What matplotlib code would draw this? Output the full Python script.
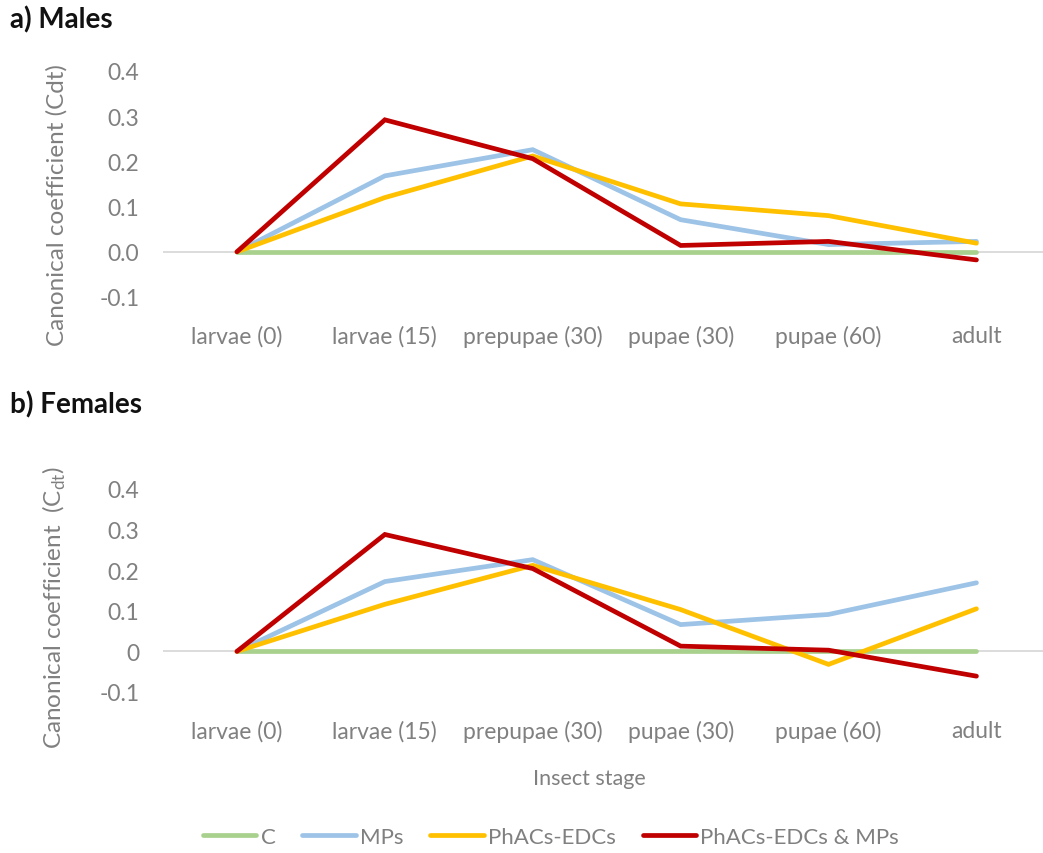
import matplotlib
matplotlib.use("Agg")
import matplotlib.pyplot as plt
from matplotlib.lines import Line2D

plt.rcParams['font.family'] = ['Lato', 'DejaVu Sans']

stages = ["larvae (0)", "larvae (15)", "prepupae (30)", "pupae (30)", "pupae (60)", "adult"]
series_names = ["C", "MPs", "PhACs-EDCs", "PhACs-EDCs & MPs"]
series_colors = ["#A9D18E", "#9DC3E6", "#FFC000", "#C00000"]

males_C = [0, 0, 0, 0, 0, 0]
males_MPs = [0, 0.168, 0.226, 0.071, 0.016, 0.023]
males_PhACs = [0, 0.120, 0.212, 0.106, 0.080, 0.019]
males_PhACs_MPs = [0, 0.292, 0.206, 0.014, 0.023, -0.018]

females_C = [0, 0, 0, 0, 0, 0]
females_MPs = [0, 0.172, 0.226, 0.066, 0.091, 0.169]
females_PhACs = [0, 0.116, 0.212, 0.103, -0.032, 0.105]
females_PhACs_MPs = [0, 0.288, 0.204, 0.013, 0.003, -0.061]

yticks = [-0.1, 0.0, 0.1, 0.2, 0.3, 0.4]
male_ytick_labels = ["-0.1", "0.0", "0.1", "0.2", "0.3", "0.4"]
female_ytick_labels = ["-0.1", "0", "0.1", "0.2", "0.3", "0.4"]

W, H = 1043, 854
fig = plt.figure(figsize=(W / 100, H / 100), dpi=100)

gray_text = "#808080"
x = list(range(len(stages)))


def panel(rect, data, ticklabels, ylabel):
    ax = fig.add_axes(rect)
    ax.axhline(0, color="#D9D9D9", lw=1.3, zorder=1)
    for vals, col in zip(data, series_colors):
        ax.plot(x, vals, color=col, lw=3.4, solid_capstyle="round",
                solid_joinstyle="miter", zorder=3)
    ax.set_xlim(-0.5, 5.45)
    ax.set_ylim(-0.1, 0.4)
    ax.set_xticks(x)
    ax.set_xticklabels(stages, color=gray_text, fontsize=16.5)
    ax.set_yticks(yticks)
    ax.set_yticklabels(ticklabels, color=gray_text, fontsize=16.5)
    ax.tick_params(axis="x", length=0, pad=20)
    ax.tick_params(axis="y", length=0, pad=17)
    for s in ax.spines.values():
        s.set_visible(False)
    ax.set_ylabel(ylabel, color=gray_text, fontsize=17.5)
    return ax


left = 163 / W
width = 880 / W
ax1 = panel([left, 1 - 298 / H, width, 226 / H],
            [males_C, males_MPs, males_PhACs, males_PhACs_MPs],
            male_ytick_labels, "Canonical coefficient (Cdt)")
ax1.yaxis.set_label_coords(-0.108, 0.41)

ax2 = panel([left, 1 - 693 / H, width, 203 / H],
            [females_C, females_MPs, females_PhACs, females_PhACs_MPs],
            female_ytick_labels, r"Canonical coefficient  (C$_{\mathregular{dt}}$)")
ax2.yaxis.set_label_coords(-0.108, 0.42)
ax2.set_xlabel("Insect stage", color=gray_text, fontsize=15.5)
ax2.xaxis.set_label_coords(0.485, -0.375)

fig.text(10 / W, 1 - 20 / H, "a) Males", fontsize=20, fontweight="bold",
         va="center", ha="left", color="#111111")
fig.text(10 / W, 1 - 405 / H, "b) Females", fontsize=20, fontweight="bold",
         va="center", ha="left", color="#111111")

handles = [Line2D([0], [0], color=c, lw=3.4, solid_capstyle="round") for c in series_colors]
fig.legend(handles, series_names, loc="center", bbox_to_anchor=(551 / W, 1 - 838 / H),
           ncol=4, frameon=False, fontsize=16, handlelength=2.4, handletextpad=0.2,
           columnspacing=1.2, labelcolor=gray_text)

fig.savefig("out.png", dpi=100)
